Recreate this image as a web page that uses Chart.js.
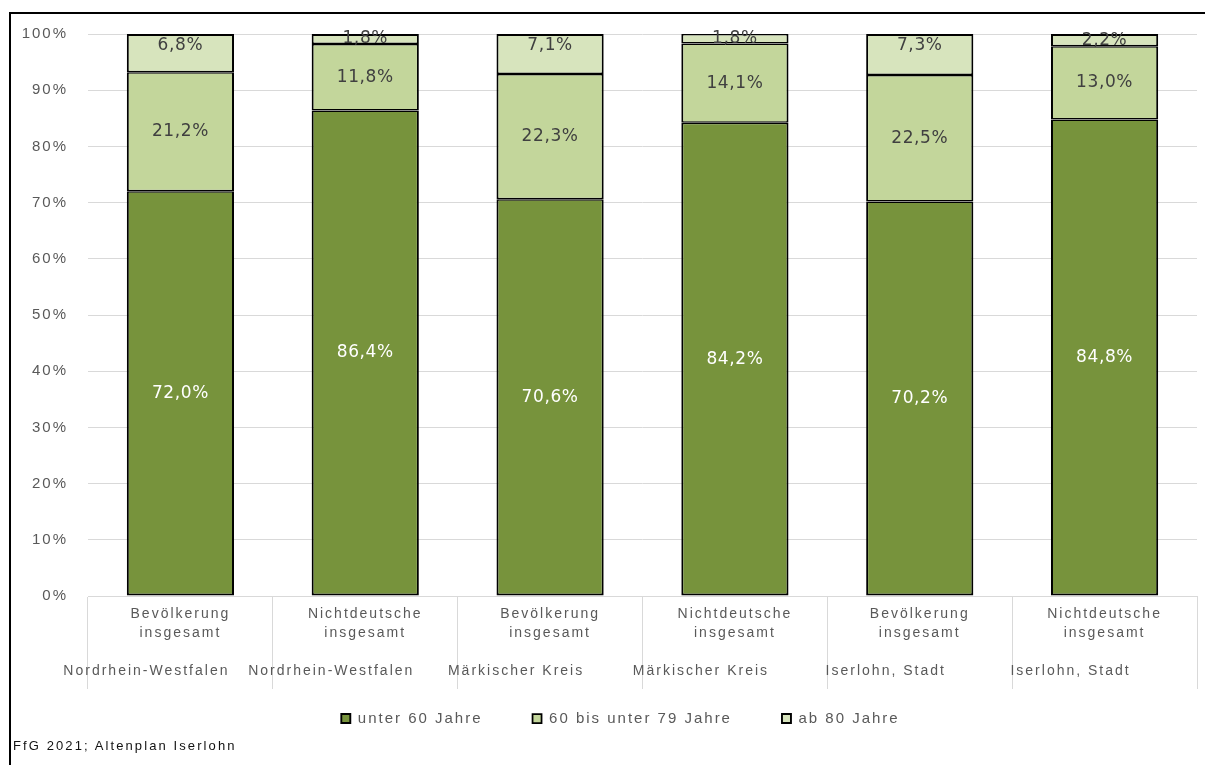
<!DOCTYPE html>
<html lang="de">
<head>
<meta charset="utf-8">
<title>Altersstruktur</title>
<script src="https://cdn.jsdelivr.net/npm/chart.js@4.4.1/dist/chart.umd.min.js"></script>
<style>
  html, body { margin: 0; padding: 0; background: #fff; }
  #wrap { position: relative; width: 1205px; height: 765px; overflow: hidden; }
  #frame { position: absolute; left: 9px; top: 12px; width: 1400px; height: 900px;
           border-top: 2px solid #000; border-left: 2px solid #000; pointer-events: none; }
  #quelle { position: absolute; left: 13px; top: 738px; font: 13px 'Liberation Sans', Arial, sans-serif;
            letter-spacing: 2.1px; color: #111; }
</style>
</head>
<body>
<div id="wrap">
  <canvas id="myChart" width="1205" height="765"></canvas>
  <div id="frame"></div>
  <div id="quelle">FfG 2021; Altenplan Iserlohn</div>
</div>
<script>
// Gruppen und Regionen (zweizeilige Achsenbeschriftung + Region darunter)
const gruppen = [
  ['Bevölkerung', 'insgesamt'],
  ['Nichtdeutsche', 'insgesamt'],
  ['Bevölkerung', 'insgesamt'],
  ['Nichtdeutsche', 'insgesamt'],
  ['Bevölkerung', 'insgesamt'],
  ['Nichtdeutsche', 'insgesamt']
];
const regionen = ['Nordrhein-Westfalen', 'Nordrhein-Westfalen', 'Märkischer Kreis',
                  'Märkischer Kreis', 'Iserlohn, Stadt', 'Iserlohn, Stadt'];

// Anteile in Prozent
const unter60 = [72.0, 86.4, 70.6, 84.2, 70.2, 84.8];
const bis79   = [21.2, 11.8, 22.3, 14.1, 22.5, 13.0];
const ab80    = [6.8, 1.8, 7.1, 1.8, 7.3, 2.2];

const serienNamen = ['unter 60 Jahre', '60 bis unter 79 Jahre', 'ab 80 Jahre'];
const yMax = 100;
const yStep = 10;

const farben = ['#77933c', '#c3d69b', '#d7e4bd'];
const grau = '#595959';
const fontArial = "'Liberation Sans', Arial, sans-serif";

function fmt(v) {
  return v.toFixed(1).replace('.', ',') + '%';
}

// breite Laufweite wie im Original
const spacing = {
  id: 'spacing',
  beforeLayout(chart) { chart.ctx.letterSpacing = '2px'; },
  beforeDraw(chart) { chart.ctx.letterSpacing = '2px'; },
  // Legende etwas nach rechts, mittig unter dem Diagramm
  afterLayout(chart) {
    chart.legend.left += 22;
    chart.legend.right += 22;
  }
};

// Werte in die Segmente schreiben
const barLabels = {
  id: 'barLabels',
  afterDatasetsDraw(chart) {
    const ctx = chart.ctx;
    ctx.save();
    ctx.letterSpacing = '0.6px';
    ctx.font = "17px 'DejaVu Sans', sans-serif";
    ctx.textAlign = 'center';
    ctx.textBaseline = 'middle';
    chart.data.datasets.forEach((ds, i) => {
      const meta = chart.getDatasetMeta(i);
      meta.data.forEach((bar, j) => {
        const p = bar.getProps(['x', 'y', 'base'], true);
        let y = (p.y + p.base) / 2;
        if (i === 2) y = Math.min(p.y + 12, y);
        ctx.fillStyle = i === 0 ? '#ffffff' : '#404040';
        ctx.fillText(fmt(ds.data[j]), p.x, y);
      });
    });
    ctx.restore();
  }
};

// Regionsnamen unter den Gruppen
const regionLabels = {
  id: 'regionLabels',
  afterDraw(chart) {
    const ctx = chart.ctx;
    const x = chart.scales.x;
    ctx.save();
    ctx.letterSpacing = '2px';
    ctx.font = '14px ' + fontArial;
    ctx.fillStyle = grau;
    ctx.textAlign = 'center';
    ctx.textBaseline = 'middle';
    regionen.forEach((r, i) => {
      ctx.fillText(r, x.getPixelForValue(i) - 34, x.top + 75);
    });
    ctx.restore();
  }
};

const seg = (top, bottom) => ({ top: top, bottom: bottom, left: 2, right: 2 });

const ctx = document.getElementById('myChart').getContext('2d');
const myChart = new Chart(ctx, {
  type: 'bar',
  data: {
    labels: gruppen,
    datasets: [
      { label: serienNamen[0], data: unter60, backgroundColor: farben[0], borderColor: '#000', borderWidth: seg(1.5, 2) },
      { label: serienNamen[1], data: bis79, backgroundColor: farben[1], borderColor: '#000', borderWidth: seg(1.5, 1.5) },
      { label: serienNamen[2], data: ab80, backgroundColor: farben[2], borderColor: '#000', borderWidth: seg(2, 1.5) }
    ]
  },
  options: {
    responsive: false,
    animation: false,
    datasets: {
      bar: { categoryPercentage: 1, barPercentage: 0.58, borderSkipped: false }
    },
    layout: { padding: { left: 0, right: 8, top: 34, bottom: 29 } },
    plugins: {
      legend: {
        position: 'bottom',
        labels: {
          boxWidth: 9,
          boxHeight: 9,
          padding: 50,
          color: grau,
          font: { family: fontArial, size: 15 }
        }
      },
      tooltip: { enabled: false }
    },
    scales: {
      x: {
        stacked: true,
        grid: { offset: true, drawOnChartArea: false, drawTicks: true, tickLength: 93, color: '#d9d9d9' },
        border: { color: '#d9d9d9' },
        ticks: {
          padding: -85,
          color: grau,
          maxRotation: 0,
          autoSkip: false,
          font: { family: fontArial, size: 14, lineHeight: 1.4 }
        },
        afterFit(s) { s.height = 65; }
      },
      y: {
        stacked: true,
        min: 0,
        max: yMax,
        grid: { color: '#d9d9d9', drawTicks: false },
        border: { display: false },
        ticks: {
          stepSize: yStep,
          padding: 20,
          color: grau,
          font: { family: fontArial, size: 15 },
          callback: v => v + '%'
        },
        afterFit(s) { s.width = 88; }
      }
    }
  },
  plugins: [spacing, barLabels, regionLabels]
});
</script>
</body>
</html>
